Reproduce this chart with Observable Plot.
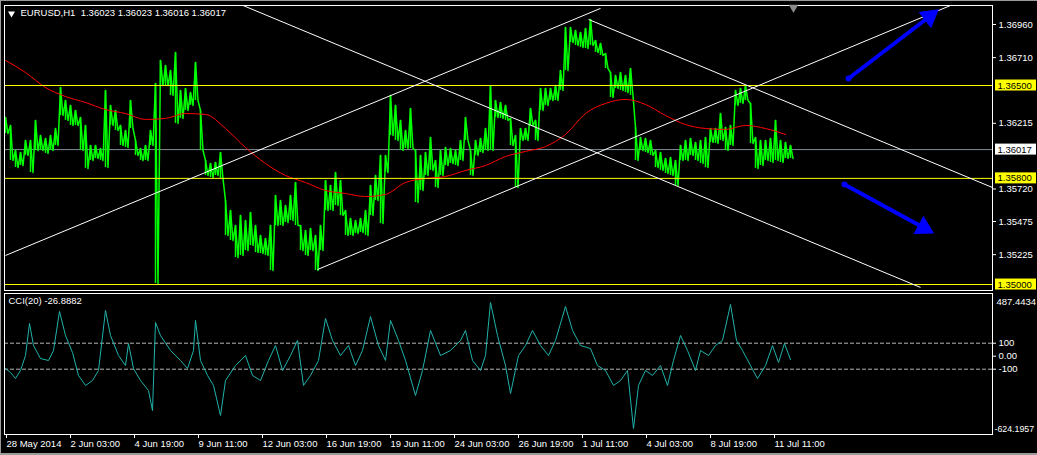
<!DOCTYPE html>
<html><head><meta charset="utf-8">
<script src="https://cdn.jsdelivr.net/npm/d3@7"></script>
<script src="https://cdn.jsdelivr.net/npm/@observablehq/plot@0.6"></script>
<style>
html,body{margin:0;padding:0;background:#000;}
#chart{position:relative;width:1037px;height:455px;background:#000;overflow:hidden;box-shadow:inset 1px 1px 0 #9a9a9a, inset 0 -2px 0 #9a9a9a;}
#chart svg{position:absolute;left:0;display:block;background:transparent;}
</style></head><body><div id="chart"></div>
<script>
// ---------- DATA ----------
const symbolLabel = "EURUSD,H1  1.36023 1.36023 1.36016 1.36017";
const cciLabel = "CCI(20) -26.8882";
const sampleStep = 5; // hourly bars per sample
// highs / lows per sample (every 5 hourly bars, from 28 May 2014)
const priceHigh = [1.36259,1.36199,1.36010,1.35995,1.36086,1.36086,1.36237,1.36123,1.36101,1.36123,
1.36176,1.36485,1.36387,1.36350,1.36312,1.36259,1.36199,1.36048,1.36048,1.36025,
1.36463,1.36350,1.36312,1.36199,1.36161,1.36387,1.36086,1.36025,1.36048,1.36161,
1.36515,1.36689,1.36651,1.36613,1.36749,1.36463,1.36478,1.36447,1.36674,1.36312,
1.35935,1.35912,1.35920,1.35995,1.35633,1.35558,1.35445,1.35520,1.35482,1.35543,
1.35445,1.35370,1.35347,1.35445,1.35671,1.35633,1.35596,1.35671,1.35769,1.35445,
1.35407,1.35422,1.35370,1.35445,1.35784,1.35746,1.35844,1.35784,1.35558,1.35498,
1.35482,1.35498,1.35558,1.35746,1.35822,1.35973,1.35973,1.36425,1.36350,1.36237,
1.36161,1.36327,1.36010,1.35973,1.35995,1.36108,1.35935,1.36010,1.36033,1.36025,
1.36010,1.36086,1.36259,1.36010,1.36086,1.36101,1.36176,1.36500,1.36387,1.36372,
1.36350,1.36252,1.36123,1.36176,1.36176,1.36327,1.36237,1.36478,1.36478,1.36478,
1.36500,1.36613,1.36937,1.36937,1.36915,1.36900,1.36930,1.36998,1.36839,1.36817,
1.36741,1.36598,1.36576,1.36598,1.36576,1.36628,1.36184,1.36108,1.36101,1.36086,
1.36010,1.35995,1.35950,1.35957,1.35935,1.36048,1.36086,1.36101,1.36071,1.36086,
1.36108,1.36176,1.36176,1.36289,1.36184,1.36199,1.36463,1.36478,1.36500,1.36365,
1.36108,1.36086,1.36086,1.36101,1.36237,1.36086,1.36071,1.36048];
const priceLow = [1.36138,1.35935,1.35882,1.35897,1.35973,1.35844,1.36010,1.36010,1.35988,1.36010,
1.36048,1.36274,1.36237,1.36199,1.36199,1.36010,1.35875,1.35935,1.35950,1.35935,
1.35882,1.36199,1.36161,1.36048,1.36033,1.36176,1.35973,1.35935,1.35935,1.36048,
1.35008,1.36500,1.36500,1.36425,1.36214,1.36252,1.36312,1.36350,1.36387,1.36010,
1.35822,1.35807,1.35822,1.35799,1.35370,1.35332,1.35204,1.35219,1.35256,1.35294,
1.35241,1.35234,1.35219,1.35106,1.35445,1.35445,1.35467,1.35482,1.35445,1.35256,
1.35219,1.35256,1.35106,1.35256,1.35558,1.35558,1.35596,1.35520,1.35370,1.35370,
1.35385,1.35392,1.35370,1.35520,1.35633,1.35460,1.35844,1.36123,1.36086,1.36010,
1.36025,1.36025,1.35618,1.35709,1.35822,1.35860,1.35731,1.35822,1.35897,1.35912,
1.35897,1.35935,1.36086,1.35822,1.35973,1.35995,1.36010,1.36010,1.36259,1.36252,
1.36237,1.36048,1.35731,1.36086,1.36086,1.36199,1.36086,1.36312,1.36350,1.36387,
1.36387,1.36463,1.36613,1.36824,1.36802,1.36787,1.36779,1.36802,1.36749,1.36726,
1.36628,1.36410,1.36478,1.36463,1.36447,1.36425,1.35935,1.36010,1.35995,1.35973,
1.35882,1.35860,1.35837,1.35822,1.35746,1.35935,1.35935,1.35973,1.35935,1.35912,
1.35882,1.36071,1.36063,1.36086,1.36010,1.36048,1.36350,1.36365,1.36387,1.36063,
1.35875,1.35897,1.35935,1.35920,1.35935,1.35920,1.35950,1.35950];
// moving average (red), one value every 20 bars
const maStep = 20;
const maValue = [1.36689,1.36598,1.36485,1.36417,1.36372,1.36319,1.36289,1.36244,1.36252,1.36289,
1.36282,1.36176,1.36033,1.35912,1.35822,1.35769,1.35709,1.35686,1.35663,1.35679,
1.35769,1.35799,1.35814,1.35860,1.35897,1.35965,1.36003,1.36040,1.36131,1.36289,
1.36365,1.36395,1.36357,1.36274,1.36206,1.36176,1.36169,1.36199,1.36176,1.36131];
// CCI(20)
const cciBar = [0,5,10,15,20,24,28,35,43,48,54,60,67,73,80,87,93,100,105,113,120,123,128,135,143,147,150,155,165,175,182,188,190,195,202,208,215,220,230,240,247,255,263,270,277,285,292,298,305,313,320,327,335,343,350,357,365,373,380,385,393,400,410,417,425,435,445,455,460,467,475,480,485,492,500,505,513,520,527,535,543,550,560,567,575,585,592,600,608,615,622,628,633,640,647,655,662,668,675,682,690,695,703,710,717,725,731,737,745,752,760,767,773,779,785];
const cciValue = [-95,-125,-172,-110,5,252,82,-18,-33,44,344,159,28,-148,-225,-187,-110,352,159,5,-72,98,-95,-187,-264,-418,259,159,44,-33,-95,44,275,-33,-148,-225,-456,-187,-72,5,-148,-187,-33,82,-110,5,121,-225,-148,-33,290,121,5,82,-72,44,305,82,-33,275,121,-33,-302,-110,198,5,44,121,198,-33,-110,5,413,159,-72,-287,5,82,198,82,5,121,382,198,82,59,-72,-110,-225,-187,-110,-556,-225,-110,-148,-72,-225,-33,159,44,-110,44,5,82,121,398,121,44,-72,-172,-72,82,-48,98,-27];
const cciLevels = [100, -100];
const cciAxisTicks = [100, 0, -100];
const cciAxisLabels = ["100", "0.00", "-100"];
const cciExtremes = [487.4434, -624.1957];
const cciExtremeLabels = ["487.4434", "-624.1957"];
// horizontal levels and last price
const levels = [1.3650, 1.3580, 1.3500];
const lastPrice = 1.36017;
const priceTicks = [1.36960, 1.36710, 1.36215, 1.35720, 1.35475, 1.35225];
// date axis (bar index -> label)
const dateTickBars = [0, 64, 128, 192, 256, 320, 384, 448, 512, 576, 640, 704, 768];
const dateTickLabels = ["28 May 2014","2 Jun 03:00","4 Jun 19:00","9 Jun 11:00","12 Jun 03:00","16 Jun 19:00","19 Jun 11:00","24 Jun 03:00","26 Jun 19:00","1 Jul 11:00","4 Jul 03:00","8 Jul 19:00","11 Jul 11:00"];
// trend lines (bar, price) -> (bar, price)
const trendBar1 = [0, 312, 235, 583];
const trendPrice1 = [1.35219, 1.35113, 1.37111, 1.36998];
const trendBar2 = [595, 945, 915, 987];
const trendPrice2 = [1.37081, 1.37103, 1.34978, 1.35731];
// blue arrows (tail -> tip)
const arrowBar1 = [843, 839];
const arrowPrice1 = [1.36553, 1.35754];
const arrowBar2 = [932, 927];
const arrowPrice2 = [1.37066, 1.35392];
const shiftMarkerBar = 788;

// ---------- TABLES ----------
const W = 1037;
const xDomain = [-1, 987];
const yDomain = [1.34955, 1.37103];
const pxPrice = (yDomain[1] - yDomain[0]) / 285; // price per pixel (x: 1 bar per pixel)
const zig = [];
priceHigh.forEach((h, k) => {
  zig.push({bar: k * sampleStep, p: h});
  zig.push({bar: k * sampleStep + sampleStep / 2, p: priceLow[k]});
});
const bars = priceHigh.map((h, k) => ({bar: k * sampleStep, hi: h, lo: priceLow[k]}));
const ma = maValue.map((v, k) => ({bar: k * maStep, p: v}));
const cci = cciBar.map((b, k) => ({bar: b, v: cciValue[k]}));
const trends = trendBar1.map((b, k) => ({x1: b, y1: trendPrice1[k], x2: trendBar2[k], y2: trendPrice2[k]}));
const headBack = 10; // px from tip to triangle centroid
const arrows = arrowBar1.map((b, k) => {
  const dx = arrowBar2[k] - b;
  const dy = -(arrowPrice2[k] - arrowPrice1[k]) / pxPrice;
  const len = Math.hypot(dx, dy);
  const ux = dx / len, uy = dy / len;
  return {
    x1: b, y1: arrowPrice1[k], x2: arrowBar2[k], y2: arrowPrice2[k],
    hx: arrowBar2[k] - headBack * ux, hy: arrowPrice2[k] + headBack * uy * pxPrice,
    angle: Math.atan2(ux, -uy) * 180 / Math.PI
  };
});

const font = "Liberation Sans, Arial, sans-serif";
const fmt5 = d3.format(".5f");
const labelBoxX1 = xDomain[1] + 3, labelBoxX2 = xDomain[1] + 44, labelTextX = xDomain[1] + 5;

const main = Plot.plot({
  width: W, height: 292,
  marginLeft: 4, marginRight: 45, marginTop: 5, marginBottom: 2,
  style: {background: "transparent", color: "white", fontFamily: font, fontSize: "9.5px", overflow: "visible"},
  x: {domain: xDomain, axis: null},
  y: {domain: yDomain, axis: null},
  marks: [
    Plot.ruleY([lastPrice], {stroke: "#7f8c99", strokeWidth: 1}),
    Plot.ruleX(bars, {x: "bar", y1: "lo", y2: "hi", stroke: "#00ff00", strokeWidth: 1.5}),
    Plot.line(zig, {x: "bar", y: "p", stroke: "#00ff00", strokeWidth: 1.5, curve: "linear"}),
    Plot.line(ma, {x: "bar", y: "p", stroke: "#ff0000", strokeWidth: 1, curve: "monotone-x"}),
    Plot.ruleY(levels, {stroke: "#ffff00", strokeWidth: 1}),
    Plot.link(trends, {x1: "x1", y1: "y1", x2: "x2", y2: "y2", stroke: "white", strokeWidth: 1, clip: true}),
    Plot.link(arrows, {x1: "x1", y1: "y1", x2: "hx", y2: "hy", stroke: "#0000ff", strokeWidth: 4}),
    Plot.dot(arrows, {x: "hx", y: "hy", symbol: "triangle", r: 7, rotate: "angle", fill: "#0000ff", stroke: "#0000ff", strokeWidth: 1}),
    Plot.dot(arrows, {x: "x1", y: "y1", r: 3, fill: "#0000ff"}),
    Plot.frame({stroke: "white"}),
    Plot.axisY({anchor: "right", ticks: priceTicks, tickFormat: fmt5, tickSize: 3, tickPadding: 3, fill: "white", stroke: "white", label: null}),
    Plot.rect(levels, {x1: () => labelBoxX1, x2: () => labelBoxX2, y1: d => d - 5.5 * pxPrice, y2: d => d + 5.5 * pxPrice, fill: "#ffff00"}),
    Plot.text(levels, {x: () => labelTextX, y: d => d, text: d => fmt5(d), textAnchor: "start", fill: "black"}),
    Plot.rect([lastPrice], {x1: () => labelBoxX1, x2: () => labelBoxX2, y1: d => d - 5.5 * pxPrice, y2: d => d + 5.5 * pxPrice, fill: "white"}),
    Plot.text([lastPrice], {x: () => labelTextX, y: d => d, text: d => fmt5(d), textAnchor: "start", fill: "black"}),
    Plot.dot([shiftMarkerBar], {x: d => d, frameAnchor: "top", symbol: "triangle", rotate: 180, r: 3.5, fill: "#8a8a8a", dy: 2}),
    Plot.dot([symbolLabel], {frameAnchor: "top-left", symbol: "triangle", rotate: 180, r: 2.6, fill: "white", dx: 7, dy: 8}),
    Plot.text([symbolLabel], {frameAnchor: "top-left", dx: 16, dy: 4, textAnchor: "start", fill: "white", text: d => d})
  ]
});
main.style.top = "0px";

const sub = Plot.plot({
  width: W, height: 165,
  marginLeft: 4, marginRight: 45, marginTop: 3, marginBottom: 21,
  style: {background: "transparent", color: "white", fontFamily: font, fontSize: "9.5px", overflow: "visible"},
  x: {domain: xDomain, axis: null},
  y: {domain: [-602, 482], axis: null},
  marks: [
    Plot.ruleY(cciLevels, {stroke: "#b4b4b4", strokeDasharray: "4,2"}),
    Plot.line(cci, {x: "bar", y: "v", stroke: "#20b2aa", strokeWidth: 1}),
    Plot.frame({stroke: "white"}),
    Plot.axisY({anchor: "right", ticks: cciAxisTicks, tickFormat: (d, i) => cciAxisLabels[i], tickSize: 3, tickPadding: 3, fill: "white", stroke: "white", label: null}),
    Plot.text([cciExtremes[0]], {x: () => labelTextX - 1, y: d => d, text: () => cciExtremeLabels[0], textAnchor: "start", fill: "white", dy: 9}),
    Plot.text([cciExtremes[1]], {x: () => labelTextX - 3, y: d => d, text: () => cciExtremeLabels[1], textAnchor: "start", fill: "white", fontSize: 8.8, dy: -8}),
    Plot.axisX({anchor: "bottom", ticks: dateTickBars, tickFormat: (d, i) => dateTickLabels[i], tickSize: 4, tickPadding: 2, textAnchor: "start", dx: 1, fill: "white", stroke: "white", label: null}),
    Plot.text([cciLabel], {frameAnchor: "top-left", dx: 4, dy: 4, textAnchor: "start", fill: "white", text: d => d})
  ]
});
sub.style.top = "290px";

const el = document.getElementById("chart");
el.appendChild(main);
el.appendChild(sub);
</script></body></html>
